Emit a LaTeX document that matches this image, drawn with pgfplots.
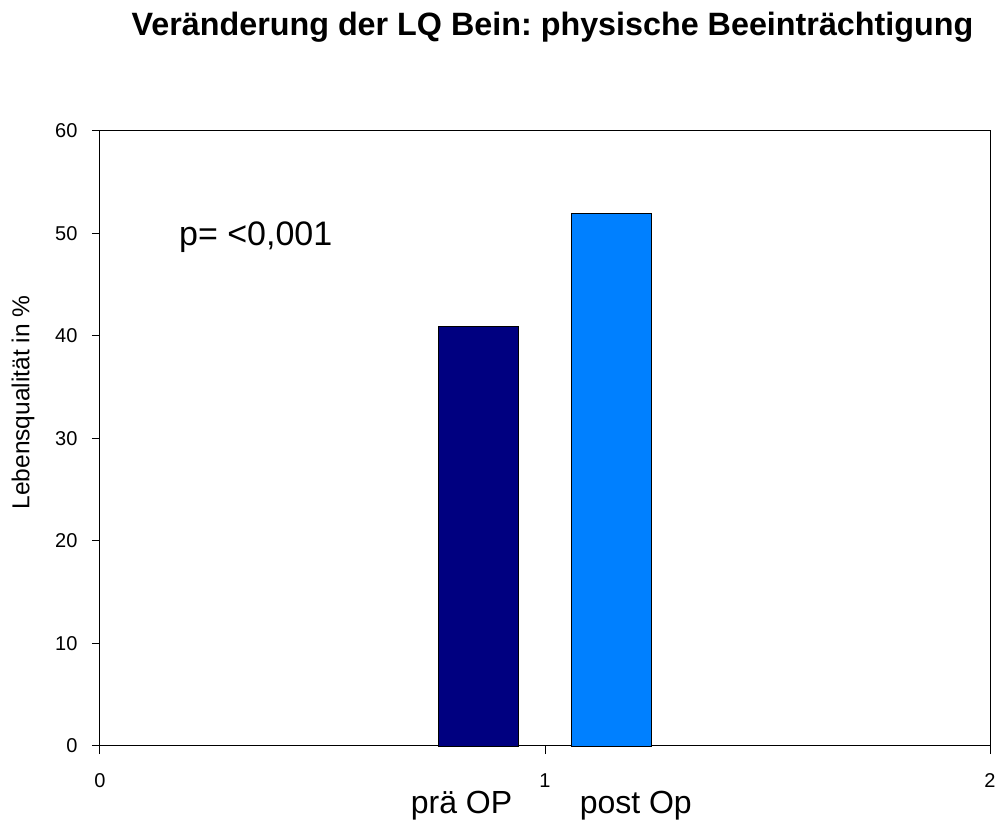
\documentclass[border=0pt]{standalone}
\usepackage{pgfplots}
\pgfplotsset{compat=1.18}
\usepackage{fontspec}
\setmainfont{Liberation Sans}
\frenchspacing
\definecolor{prae}{HTML}{000080}
\definecolor{post}{HTML}{0080FF}
\begin{document}
\begin{tikzpicture}
\useasboundingbox (-100pt,-75pt) rectangle (906pt,746pt);
\begin{axis}[
  at={(0pt,0pt)}, anchor=south west,
  scale only axis, width=890pt, height=615pt,
  clip=false,
  xmin=0, xmax=2, ymin=0, ymax=60,
  xtick={0,1,2}, ytick={0,10,...,60},
  tick align=outside, major tick length=8pt,
  xtick pos=left, ytick pos=left,
  axis line style={line width=1pt}, tick style={line width=1pt, black},
  /pgf/number format/assume math mode=true,
  xticklabel style={font=\fontsize{20}{22}\selectfont, yshift=-16pt},
  yticklabel style={font=\fontsize{20}{22}\selectfont, xshift=-11pt},
  xticklabels={0,1,2},
  yticklabels={0,10,20,30,40,50,60},
]
\addplot[ybar, bar width=80pt, bar shift=-66.5pt, fill=prae, draw=black] coordinates {(1,41)};
\addplot[ybar, bar width=80pt, bar shift=66.5pt, fill=post, draw=black] coordinates {(1,52)};
\node[anchor=west, font=\fontsize{34}{36}\selectfont] at (axis cs:0.17,49.6) {p= <0,001};
\node[anchor=base, font=\bfseries\fontsize{32.3}{34}\selectfont] at (rel axis cs:0.5084,1.156) {Veränderung der LQ Bein: physische Beeinträchtigung};
\node[rotate=90, font=\fontsize{24.5}{26}\selectfont] at (rel axis cs:-0.0865,0.5585) {Lebensqualität in \%};
\node[anchor=base, font=\fontsize{32}{34}\selectfont] at (axis cs:0.8124,-6.634) {prä OP};
\node[anchor=base, font=\fontsize{32}{34}\selectfont] at (axis cs:1.204,-6.634) {post Op};
\end{axis}
\end{tikzpicture}
\end{document}
